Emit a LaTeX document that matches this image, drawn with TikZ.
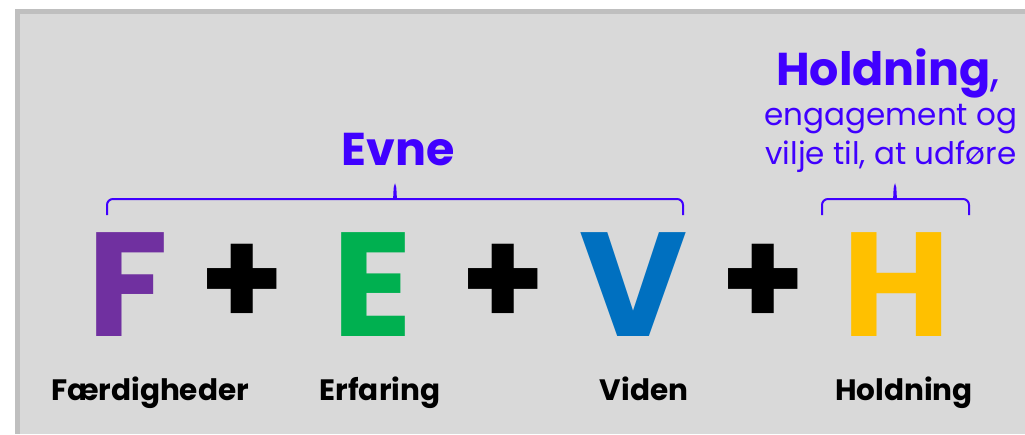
\documentclass[tikz,border=0pt]{standalone}
\usepackage{fontspec}
\setmainfont{Poppins}
\usepackage{xcolor}
\definecolor{panelgray}{RGB}{217,217,217}
\definecolor{framegray}{RGB}{191,191,191}
\definecolor{evneblue}{RGB}{64,0,255}
\definecolor{fpurple}{RGB}{112,48,160}
\definecolor{egreen}{RGB}{0,176,80}
\definecolor{vblue}{RGB}{0,112,192}
\definecolor{hyellow}{RGB}{255,192,0}
\usepackage{tikz}
\usetikzlibrary{positioning,calc}

\begin{document}
\begin{tikzpicture}[
    x=1pt, y=-1pt,
    letter/.style={anchor=base, inner sep=0pt, text depth=0pt, font=\fontsize{148}{150}\selectfont\bfseries},
    plus/.style={anchor=center, inner sep=0pt, font=\fontsize{136}{136}\selectfont\bfseries},
    word/.style={anchor=base, inner sep=0pt, font=\fontsize{29.5}{32}\selectfont\bfseries},
    title/.style={anchor=base, inner sep=0pt, text=evneblue, font=\fontsize{46}{50}\selectfont\bfseries},
    note/.style={anchor=base, inner sep=0pt, text=evneblue, font=\fontsize{31}{34}\selectfont},
    bline/.style={draw=evneblue, line width=2pt, rounded corners=6pt}
]

% panel
\useasboundingbox (0,0) rectangle (1025,434);
\fill[white] (0,0) rectangle (1025,434);
\fill[framegray] (15,9) rectangle (1025,434);
\fill[panelgray] (20,14) rectangle (1025,434);

% letters
\node[letter, text=fpurple] (F) at (128,336) {F};
\node[letter, text=egreen] (E) at (373,336) {E};
\node[letter, text=vblue] (V) at (634,336) {V};
\node[letter, text=hyellow] (H) at (897,336) {H};

\node[plus] (p1) at (242,285) {+};
\node[plus] (p2) at (503,285) {+};
\node[plus] (p3) at (763,285) {+};

% words below
\node[word] (fw) at (150,400) {Færdigheder};
\node[word] (ew) at (380,400) {Erfaring};
\node[word] (vw) at (644,400) {Viden};
\node[word] (hw) at (904,400) {Holdning};

% braces
\coordinate (b1l) at (107,215);
\coordinate (b1t) at (395,183);
\coordinate (b1r) at (683,215);
\coordinate (b2l) at (822,215);
\coordinate (b2t) at (895,183);
\coordinate (b2r) at (969,215);
\draw[bline] (b1l) |- ($(b1t)+(-6,16)$) .. controls ($(b1t)+(-1,16)$) .. (b1t)
    .. controls ($(b1t)+(1,16)$) .. ($(b1t)+(6,16)$) -| (b1r);
\draw[bline] (b2l) |- ($(b2t)+(-6,16)$) .. controls ($(b2t)+(-1,16)$) .. (b2t)
    .. controls ($(b2t)+(1,16)$) .. ($(b2t)+(6,16)$) -| (b2r);

% headings
\node[title] (evne) at (398,165) {Evne};
\node[title] (hold) at (888,85) {Holdning\textmd{,}};
\node[note] (eng) at (891,125) {engagement og};
\node[note] (vil) at (891,164) {vilje til, at udføre};

\end{tikzpicture}
\end{document}
